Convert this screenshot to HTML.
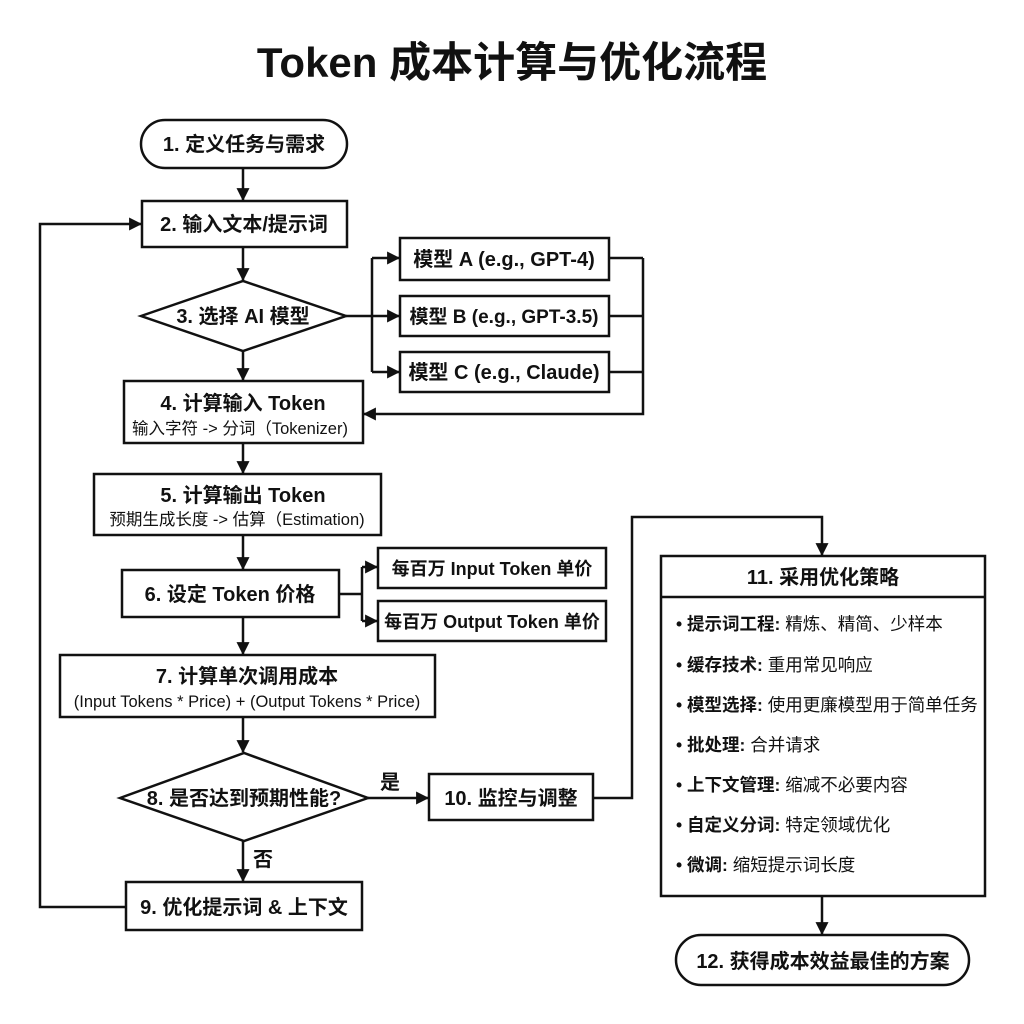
<!DOCTYPE html>
<html><head><meta charset="utf-8"><style>
html,body{margin:0;padding:0;background:#fff;}
svg{display:block;}
text{font-family:"Liberation Sans","Noto Sans CJK SC",sans-serif;fill:#111;}
.b{font-weight:bold;font-size:20px;}
.n{font-size:16.5px;}
.s{font-size:17.5px;}
</style></head><body>
<svg width="1024" height="1024" viewBox="0 0 1024 1024" xmlns="http://www.w3.org/2000/svg">
<defs>
<marker id="m" viewBox="0 0 12 12" markerWidth="13" markerHeight="13" refX="11" refY="6" orient="auto" markerUnits="userSpaceOnUse"><path d="M0,0 L12,6 L0,12 z" fill="#111"/></marker></defs>
<text x="512" y="77" text-anchor="middle" style="font-weight:bold;font-size:42px">Token 成本计算与优化流程</text>
<g fill="#fff" stroke="#111" stroke-width="2.5">
<rect x="141" y="120" width="206" height="48" rx="24"/>
<rect x="142" y="201" width="205" height="46"/>
<polygon points="141,316 243,281 346,316 243,351"/>
<rect x="400" y="238" width="209" height="42"/>
<rect x="400" y="296" width="209" height="40"/>
<rect x="400" y="352" width="209" height="40"/>
<rect x="124" y="381" width="239" height="62"/>
<rect x="94" y="474" width="287" height="61"/>
<rect x="122" y="570" width="217" height="47"/>
<rect x="378" y="548" width="228" height="40"/>
<rect x="378" y="601" width="228" height="40"/>
<rect x="60" y="655" width="375" height="62"/>
<polygon points="120,798 244,753 368,798 244,841"/>
<rect x="126" y="882" width="236" height="48"/>
<rect x="429" y="774" width="164" height="46"/>
<rect x="661" y="556" width="324" height="340"/>
<rect x="676" y="935" width="293" height="50" rx="25"/>
</g>
<g fill="none" stroke="#111" stroke-width="2.5">
<line x1="661" y1="597" x2="985" y2="597"/>
<line x1="243" y1="168" x2="243" y2="200" marker-end="url(#m)"/>
<line x1="243" y1="247" x2="243" y2="280" marker-end="url(#m)"/>
<line x1="243" y1="351" x2="243" y2="380" marker-end="url(#m)"/>
<line x1="243" y1="443" x2="243" y2="473" marker-end="url(#m)"/>
<line x1="243" y1="535" x2="243" y2="569" marker-end="url(#m)"/>
<line x1="243" y1="617" x2="243" y2="654" marker-end="url(#m)"/>
<line x1="243" y1="717" x2="243" y2="752" marker-end="url(#m)"/>
<line x1="243" y1="841" x2="243" y2="881" marker-end="url(#m)"/>
<polyline points="126,907 40,907 40,224 141,224" marker-end="url(#m)"/>
<line x1="346" y1="316" x2="372" y2="316"/>
<line x1="372" y1="258" x2="372" y2="372"/>
<line x1="372" y1="258" x2="399" y2="258" marker-end="url(#m)"/>
<line x1="372" y1="316" x2="399" y2="316" marker-end="url(#m)"/>
<line x1="372" y1="372" x2="399" y2="372" marker-end="url(#m)"/>
<line x1="609" y1="258" x2="643" y2="258"/>
<line x1="609" y1="316" x2="643" y2="316"/>
<line x1="609" y1="372" x2="643" y2="372"/>
<polyline points="643,258 643,414 364,414" marker-end="url(#m)"/>
<line x1="339" y1="594" x2="362" y2="594"/>
<line x1="362" y1="567" x2="362" y2="621"/>
<line x1="362" y1="567" x2="377" y2="567" marker-end="url(#m)"/>
<line x1="362" y1="621" x2="377" y2="621" marker-end="url(#m)"/>
<line x1="368" y1="798" x2="428" y2="798" marker-end="url(#m)"/>
<polyline points="593,798 632,798 632,517 822,517 822,555" marker-end="url(#m)"/>
<line x1="822" y1="896" x2="822" y2="934" marker-end="url(#m)"/>
</g>
<g text-anchor="middle">
<text class="b" x="244" y="151">1. 定义任务与需求</text>
<text class="b" x="244" y="231">2. 输入文本/提示词</text>
<text class="b" x="243" y="323">3. 选择 AI 模型</text>
<text class="b" x="504" y="266">模型 A (e.g., GPT-4)</text>
<text class="b" x="504" y="323" style="font-size:19px">模型 B (e.g., GPT-3.5)</text>
<text class="b" x="504" y="379">模型 C (e.g., Claude)</text>
<text class="b" x="243" y="410">4. 计算输入 Token</text>
<text class="n" x="240" y="434">输入字符 -&gt; 分词（Tokenizer)</text>
<text class="b" x="243" y="502">5. 计算输出 Token</text>
<text class="n" x="237" y="525">预期生成长度 -&gt; 估算（Estimation)</text>
<text class="b" x="230" y="601">6. 设定 Token 价格</text>
<text class="b" x="492" y="575" style="font-size:18px">每百万 Input Token 单价</text>
<text class="b" x="492" y="628" style="font-size:18px">每百万 Output Token 单价</text>
<text class="b" x="247" y="683">7. 计算单次调用成本</text>
<text class="n" x="247" y="707">(Input Tokens * Price) + (Output Tokens * Price)</text>
<text class="b" x="244" y="805">8. 是否达到预期性能?</text>
<text class="b" x="390" y="789">是</text>
<text class="b" x="263" y="866">否</text>
<text class="b" x="244" y="914">9. 优化提示词 &amp; 上下文</text>
<text class="b" x="511" y="805">10. 监控与调整</text>
<text class="b" x="823" y="584">11. 采用优化策略</text>
<text class="b" x="823" y="968">12. 获得成本效益最佳的方案</text>
</g>
<g>
<text x="676" y="630" class="s"><tspan font-weight="bold">• 提示词工程:</tspan> 精炼、精简、少样本</text>
<text x="676" y="671" class="s"><tspan font-weight="bold">• 缓存技术:</tspan> 重用常见响应</text>
<text x="676" y="711" class="s"><tspan font-weight="bold">• 模型选择:</tspan> 使用更廉模型用于简单任务</text>
<text x="676" y="751" class="s"><tspan font-weight="bold">• 批处理:</tspan> 合并请求</text>
<text x="676" y="791" class="s"><tspan font-weight="bold">• 上下文管理:</tspan> 缩减不必要内容</text>
<text x="676" y="831" class="s"><tspan font-weight="bold">• 自定义分词:</tspan> 特定领域优化</text>
<text x="676" y="871" class="s"><tspan font-weight="bold">• 微调:</tspan> 缩短提示词长度</text>
</g>
</svg>
</body></html>
